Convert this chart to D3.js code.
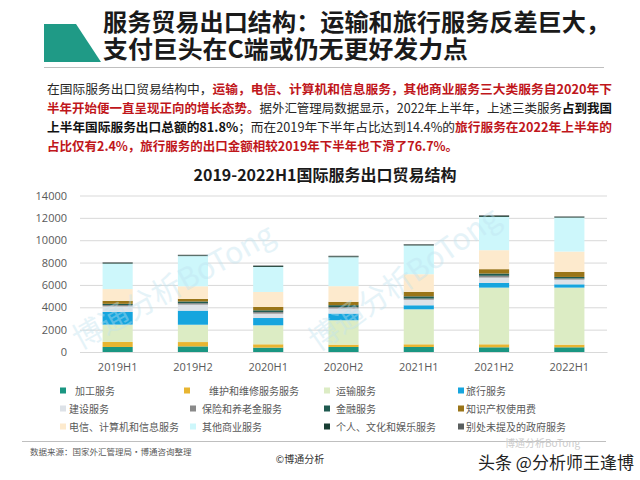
<!DOCTYPE html>
<html><head><meta charset="utf-8">
<script src="https://cdn.jsdelivr.net/npm/d3@7"></script>
<style>
html,body{margin:0;padding:0;background:#fff;}
svg{display:block;font-family:"Noto Sans CJK SC","Noto Sans",sans-serif;}
</style></head>
<body>
<svg id="c" width="640" height="480"></svg>
<script>
// ---- data ----
const categories = ["2019H1","2019H2","2020H1","2020H2","2021H1","2021H2","2022H1"];
const seriesNames = ["加工服务","维护和维修服务服务","运输服务","旅行服务","建设服务","保险和养老金服务","金融服务","知识产权使用费","电信、计算机和信息服务","其他商业服务","个人、文化和娱乐服务","别处未提及的政府服务"];
const processing    = [450, 500, 390, 450, 450, 420, 420];
const maintenance   = [450, 390, 300, 210, 240, 270, 240];
const transport     = [1550, 1550, 1700, 2180, 3130, 5070, 5100];
const travel        = [1130, 1260, 650, 600, 360, 420, 295];
const construction  = [500, 540, 390, 450, 500, 480, 420];
const insurance     = [120, 130, 150, 130, 100, 160, 100];
const financial     = [110, 150, 150, 170, 200, 200, 140];
const ipFees        = [270, 230, 300, 300, 400, 390, 450];
const telecom       = [1050, 1130, 1340, 1400, 1580, 1700, 1820];
const otherBusiness = [2280, 2700, 2240, 2590, 2570, 2980, 3040];
const personal      = [70, 70, 80, 80, 80, 90, 70];
const government    = [50, 50, 50, 50, 50, 60, 40];
const yTicks = [0, 2000, 4000, 6000, 8000, 10000, 12000, 14000];

const seriesValues = [processing, maintenance, transport, travel, construction, insurance, financial, ipFees, telecom, otherBusiness, personal, government];
const colors = ["#1a9682","#e8b531","#dcecc4","#16a5de","#dde2e8","#8a8a8a","#1f5a50","#9a7518","#fdeacd","#cdf7fb","#183e33","#5a5f5f"];

const svg = d3.select("#c");

// ---- header ----
svg.append("polygon").attr("points","44,24 76,24 101,62 44,62").attr("fill","#1f9a86");
svg.append("text").attr("x",103).attr("y",31).attr("font-size",23.5).attr("font-weight",700).attr("fill","#1a1a1a")
  .attr("textLength",507).attr("lengthAdjust","spacingAndGlyphs")
  .text("服务贸易出口结构：运输和旅行服务反差巨大，");
svg.append("text").attr("x",103).attr("y",58).attr("font-size",23.5).attr("font-weight",700).attr("fill","#1a1a1a")
  .attr("textLength",365).attr("lengthAdjust","spacingAndGlyphs")
  .text("支付巨头在C端或仍无更好发力点");
svg.append("line").attr("x1",44).attr("x2",604).attr("y1",67.5).attr("y2",67.5).attr("stroke","#bfbfbf").attr("stroke-width",1);

// ---- paragraph ----
const red = "#c0161b";
const para = [
  {y:94, len:565, parts:[["在国际服务出口贸易结构中，","n"],["运输，电信、计算机和信息服务，其他商业服务三大类服务自2020年下","r"]]},
  {y:113, len:565, parts:[["半年开始便一直呈现正向的增长态势。","r"],["据外汇管理局数据显示，2022年上半年，上述三类服务","n"],["占到我国","b"]]},
  {y:132, len:565, parts:[["上半年国际服务出口总额的81.8%","b"],["；而在2019年下半年占比达到14.4%的","n"],["旅行服务在2022年上半年的","r"]]},
  {y:151, len:null, parts:[["占比仅有2.4%，旅行服务的出口金额相较2019年下半年也下滑了76.7%。","r"]]}
];
para.forEach(l=>{
  const t = svg.append("text").attr("x",47).attr("y",l.y).attr("font-size",12.5).attr("fill","#262626");
  if(l.len) t.attr("textLength",l.len).attr("lengthAdjust","spacingAndGlyphs");
  l.parts.forEach(p=>{
    const s = t.append("tspan").text(p[0]);
    if(p[1]==="r") s.attr("fill",red).attr("font-weight",700);
    if(p[1]==="b") s.attr("fill","#111").attr("font-weight",700);
  });
});

// ---- chart ----
svg.append("text").attr("x",325).attr("y",181).attr("text-anchor","middle").attr("font-size",16).attr("font-weight",700).attr("fill","#1a1a1a")
  .text("2019-2022H1国际服务出口贸易结构");

const x = d3.scaleBand().domain(categories).range([80,607]).paddingInner(0.6).paddingOuter(0.3);
const y = d3.scaleLinear().domain([0,14000]).range([352,195.5]);

const gy = svg.append("g").attr("transform","translate(80,0)")
  .call(d3.axisLeft(y).tickValues(yTicks).tickSize(-527).tickFormat(d3.format("d")).tickPadding(13));
gy.select(".domain").remove();
gy.selectAll(".tick line").attr("stroke","#d9d9d9");
gy.selectAll(".tick text").attr("font-size",11).attr("fill","#595959").attr("font-family","'Open Sans','Noto Sans',sans-serif");

const table = categories.map((c,i)=>{const o={cat:c}; seriesNames.forEach((n,j)=>o[n]=seriesValues[j][i]); return o;});
const stacked = d3.stack().keys(seriesNames)(table);
svg.append("g").selectAll("g").data(stacked).join("g").attr("fill",(d,i)=>colors[i])
  .selectAll("rect").data(d=>d).join("rect")
  .attr("x",d=>x(d.data.cat)).attr("width",x.bandwidth())
  .attr("y",d=>y(d[1])).attr("height",d=>y(d[0])-y(d[1]));

const gx = svg.append("g").attr("transform","translate(0,352)").call(d3.axisBottom(x).tickSize(0).tickPadding(11));
gx.select(".domain").attr("stroke","#d9d9d9");
gx.selectAll(".tick text").attr("font-size",11).attr("fill","#595959").attr("font-family","'Open Sans','Noto Sans',sans-serif");

// watermark
[[80,350,-29],[318,352,-35]].forEach(w=>{
  svg.append("text").attr("transform",`translate(${w[0]},${w[1]}) rotate(${w[2]})`)
    .attr("font-size",30).attr("fill","#bfe3f0").attr("opacity",0.4).text("博通分析BoTong");
});

// ---- legend ----
const legend = [
  [0,60,391,75],[1,184,391,209],[2,324,391,336],[3,458,391,466],
  [4,60,409,69],[5,190,409,202],[6,324,409,336],[7,458,409,466],
  [8,60,427,69],[9,190,427,202],[10,324,427,336],[11,458,427,466]
];
legend.forEach(l=>{
  svg.append("rect").attr("x",l[1]).attr("y",l[2]-3.5).attr("width",6).attr("height",6).attr("fill",colors[l[0]]);
  svg.append("text").attr("x",l[3]).attr("y",l[2]+3.5).attr("font-size",10).attr("fill","#595959").text(seriesNames[l[0]]);
});

// ---- footer ----
svg.append("line").attr("x1",22).attr("x2",606).attr("y1",441.5).attr("y2",441.5).attr("stroke","#bfbfbf");
svg.append("text").attr("x",30).attr("y",455).attr("font-size",8.5).attr("fill","#595959").text("数据来源：国家外汇管理局·博通咨询整理");
svg.append("text").attr("x",300).attr("y",463).attr("text-anchor","middle").attr("font-size",10).attr("fill","#333").text("©博通分析");
svg.append("text").attr("x",505).attr("y",447).attr("font-size",10).attr("fill","#cccccc").text("博通分析BoTong");
svg.append("text").attr("x",478).attr("y",469).attr("font-size",17).attr("fill","#222").text("头条 @分析师王逢博");
</script>
</body></html>
